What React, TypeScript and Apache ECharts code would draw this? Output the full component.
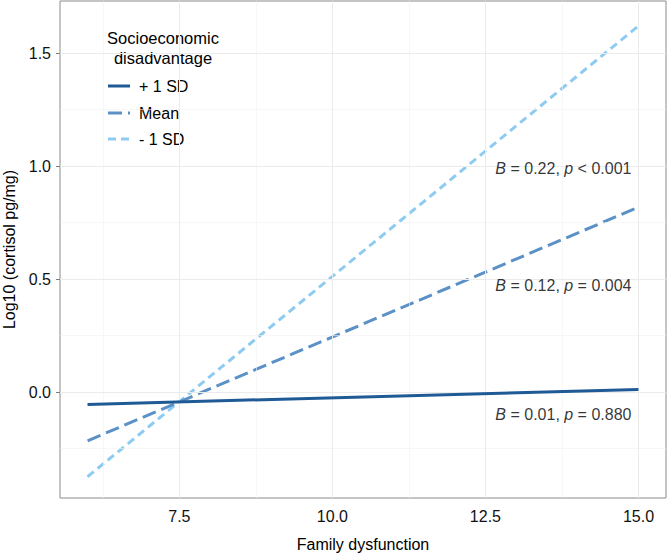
import React, { useEffect, useRef } from "react";
import * as echarts from "echarts";

const FONT = "Liberation Sans, Arial, Helvetica, sans-serif";

const xRange = [5.55, 15.45];
const yRange = [-0.468, 1.73];
const xTicks = [7.5, 10.0, 12.5, 15.0];
const yTicks = [0.0, 0.5, 1.0, 1.5];
const xMinor = [6.25, 8.75, 11.25, 13.75];
const yMinor = [-0.25, 0.25, 0.75, 1.25];

const seriesNames = ["+ 1 SD", "Mean", "- 1 SD"];
const familyDysfunction = [6, 15];
const plus1SD = [-0.054, 0.012];
const meanSES = [-0.215, 0.818];
const minus1SD = [-0.374, 1.62];

const annotX = [15, 15, 15];
const annotY = [0.99, 0.47, -0.097];
const annotB = ["0.22", "0.12", "0.01"];
const annotP = ["< 0.001", "= 0.004", "= 0.880"];

const colors = ["#1f5a96", "#5b91c6", "#8ecbf1"];
const dashes: any[] = ["solid", [14, 6], [8, 5]];

export default function App() {
  const ref = useRef<HTMLDivElement>(null);
  useEffect(() => {
    document.body.style.margin = "0";
    const chart = echarts.init(ref.current!, undefined, { renderer: "svg" });
    const values = [plus1SD, meanSES, minus1SD];
    const lineSeries = seriesNames.map((name, i) => ({
      name,
      type: "line",
      data: familyDysfunction.map((x, j) => [x, values[i][j]]),
      showSymbol: false,
      symbol: "none",
      z: 5 - i,
      lineStyle: { color: colors[i], width: 3, type: dashes[i], cap: "butt" },
    }));
    const gridSeries = {
      type: "line",
      data: [],
      silent: true,
      z: 1,
      markLine: {
        silent: true,
        symbol: "none",
        label: { show: false },
        animation: false,
        data: [
          ...xMinor.map((v) => ({ xAxis: v, lineStyle: { color: "#f2f2f2", width: 0.6, type: "solid" } })),
          ...yMinor.map((v) => ({ yAxis: v, lineStyle: { color: "#f2f2f2", width: 0.6, type: "solid" } })),
          ...xTicks.map((v) => ({ xAxis: v, lineStyle: { color: "#ebebeb", width: 1, type: "solid" } })),
          ...yTicks.map((v) => ({ yAxis: v, lineStyle: { color: "#ebebeb", width: 1, type: "solid" } })),
        ],
      },
    };
    const annotSeries = {
      type: "scatter",
      symbolSize: 0,
      silent: true,
      z: 6,
      data: annotX.map((x, i) => ({
        value: [x, annotY[i]],
        label: {
          show: true,
          position: "left",
          distance: 7,
          formatter: `{i|B} = ${annotB[i]}, {i|p} ${annotP[i]}`,
          fontSize: 16,
          fontFamily: FONT,
          color: "#000",
          rich: { i: { fontStyle: "italic", fontSize: 16, fontFamily: FONT, color: "#000" } },
        },
      })),
    };
    const legendItems: any[] = [];
    const legendY = [86, 113, 139];
    seriesNames.forEach((n, i) => {
      legendItems.push({
        type: "line",
        shape: { x1: 108, y1: legendY[i], x2: 130, y2: legendY[i] },
        style: { stroke: colors[i], lineWidth: 3, lineDash: i === 0 ? null : dashes[i] },
      });
      legendItems.push({
        type: "text",
        x: 139,
        y: legendY[i],
        style: { text: n, fontSize: 16, fontFamily: FONT, fill: "#000", verticalAlign: "middle", align: "left" },
      });
    });
    legendItems.push({
      type: "text",
      x: 163,
      y: 38,
      style: { text: "Socioeconomic", fontSize: 16.5, fontFamily: FONT, fill: "#000", verticalAlign: "middle", align: "center" },
    });
    legendItems.push({
      type: "text",
      x: 163,
      y: 58,
      style: { text: "disadvantage", fontSize: 16.5, fontFamily: FONT, fill: "#000", verticalAlign: "middle", align: "center" },
    });

    chart.setOption({
      animation: false,
      grid: {
        left: 60, right: 1, top: 1, bottom: 57,
        show: true, borderColor: "#8a8a8a", borderWidth: 1, backgroundColor: "#fff",
        containLabel: false, outerBoundsMode: "none",
      },
      xAxis: {
        type: "value",
        min: xRange[0], max: xRange[1],
        name: "Family dysfunction",
        nameLocation: "middle",
        nameGap: 38,
        nameTextStyle: { fontSize: 16, fontFamily: FONT, color: "#000" },
        axisLine: { show: false },
        axisTick: { show: true, length: 4, customValues: xTicks, lineStyle: { color: "#7a7a7a" } },
        axisLabel: {
          customValues: xTicks, fontSize: 16, fontFamily: FONT, color: "#111", margin: 10,
          formatter: (v: number) => v.toFixed(1),
        },
        splitLine: { show: false },
      },
      yAxis: {
        type: "value",
        min: yRange[0], max: yRange[1],
        name: "Log10 (cortisol pg/mg)",
        nameLocation: "middle",
        nameGap: 40,
        nameTextStyle: { fontSize: 16, fontFamily: FONT, color: "#000" },
        axisLine: { show: false },
        axisTick: { show: true, length: 4, customValues: yTicks, lineStyle: { color: "#7a7a7a" } },
        axisLabel: {
          customValues: yTicks, fontSize: 16, fontFamily: FONT, color: "#111", margin: 9,
          formatter: (v: number) => v.toFixed(1),
        },
        splitLine: { show: false },
      },
      series: [gridSeries, ...lineSeries, annotSeries],
      graphic: [{ type: "group", children: legendItems }],
    });
    return () => chart.dispose();
  }, []);
  return <div ref={ref} style={{ width: 667, height: 555 }} />;
}
